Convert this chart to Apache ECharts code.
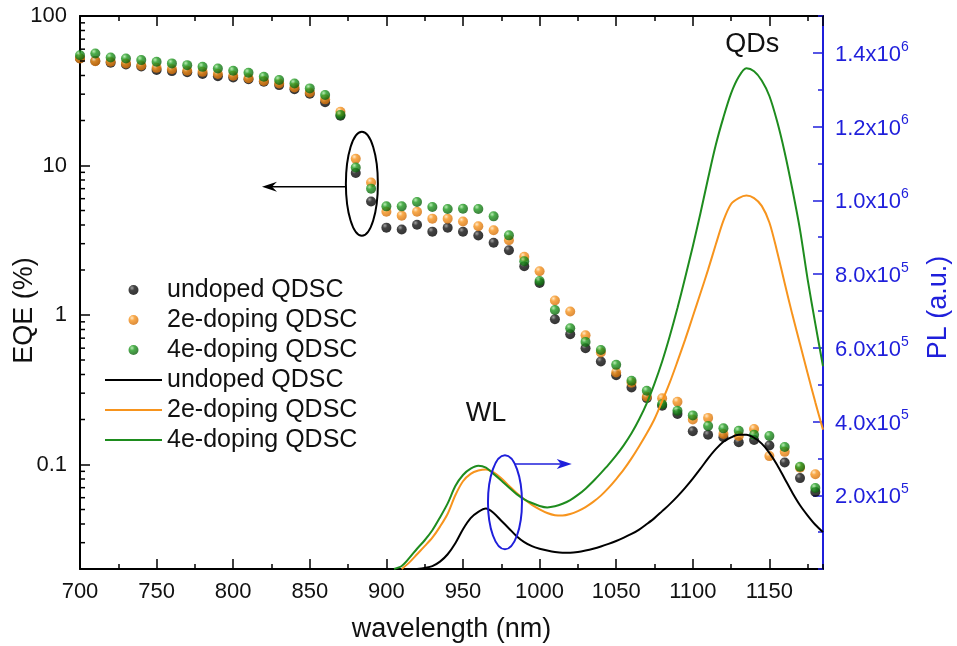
<!DOCTYPE html>
<html>
<head>
<meta charset="utf-8">
<script src="https://cdn.jsdelivr.net/npm/echarts@6/dist/echarts.min.js"></script>
<style>
  html, body { margin: 0; padding: 0; background: #fff; }
  #chart { width: 957px; height: 646px; }
</style>
</head>
<body>
<div id="chart"></div>
<script>
// EQE measurement wavelengths (nm) and EQE values (%) for the three cells
const wavelengthEQE = [700, 710, 720, 730, 740, 750, 760, 770, 780, 790,
  800, 810, 820, 830, 840, 850, 860, 870, 880, 890,
  900, 910, 920, 930, 940, 950, 960, 970, 980, 990,
  1000, 1010, 1020, 1030, 1040, 1050, 1060, 1070, 1080, 1090,
  1100, 1110, 1120, 1130, 1140, 1150, 1160, 1170, 1180];
const eqeUndoped = [52.0, 50.0, 48.7, 47.4, 46.0, 43.5, 42.8, 42.0, 40.9, 39.6,
  38.8, 37.7, 36.3, 34.5, 32.4, 30.2, 26.5, 21.5, 8.90, 5.75,
  3.84, 3.73, 4.01, 3.61, 3.83, 3.60, 3.40, 3.04, 2.71, 2.12,
  1.64, 0.936, 0.744, 0.600, 0.489, 0.396, 0.328, 0.278, 0.247, 0.218,
  0.167, 0.158, 0.152, 0.141, 0.146, 0.134, 0.103, 0.0811, 0.0655];
const eqe2e = [52.0, 49.9, 49.4, 48.2, 46.7, 45.0, 44.1, 43.0, 42.3, 40.9,
  39.8, 38.3, 36.7, 35.4, 33.3, 30.8, 27.7, 22.9, 11.1, 7.70,
  4.91, 4.62, 4.91, 4.41, 4.41, 4.22, 3.92, 3.69, 3.16, 2.45,
  1.96, 1.25, 1.054, 0.732, 0.561, 0.413, 0.352, 0.284, 0.277, 0.263,
  0.200, 0.205, 0.160, 0.155, 0.173, 0.1138, 0.1215, 0.095, 0.0861];
const eqe4e = [54.7, 56.2, 52.8, 52.0, 50.7, 49.4, 48.2, 46.9, 45.7, 44.6,
  43.0, 41.7, 39.2, 37.3, 35.4, 32.8, 29.6, 21.8, 9.70, 7.0,
  5.33, 5.33, 5.70, 5.28, 5.12, 5.14, 5.12, 4.57, 3.41, 2.29,
  1.69, 1.08, 0.815, 0.661, 0.584, 0.464, 0.363, 0.311, 0.253, 0.229,
  0.213, 0.181, 0.1745, 0.168, 0.158, 0.155, 0.131, 0.0965, 0.0697];

// PL spectra (a.u., in thousands), sampled every 5 nm
const PL_UNIT = 1000;
const wavelengthPL = [900, 905, 910, 915, 920, 925, 930, 935, 940, 945,
  950, 955, 960, 965, 970, 975, 980, 985, 990, 995,
  1000, 1005, 1010, 1015, 1020, 1025, 1030, 1035, 1040, 1045,
  1050, 1055, 1060, 1065, 1070, 1075, 1080, 1085, 1090, 1095,
  1100, 1105, 1110, 1115, 1120, 1125, 1130, 1135, 1140, 1145,
  1150, 1155, 1160, 1165, 1170, 1175, 1180, 1185];
const plUndoped = [null, null, null, null, 0, 3, 8, 20, 40, 70,
  108, 138, 155, 164, 152, 131, 110, 89, 73, 62,
  55, 50, 46, 44, 44, 46, 50, 55, 61, 68,
  76, 85, 95, 107, 122, 138, 157, 176, 197, 220,
  245, 272, 300, 325, 345, 357, 364, 364, 356, 340,
  315, 283, 245, 207, 173, 145, 120, 100];
const pl2e = [null, null, 0, 18, 40, 62, 85, 115, 150, 200,
  238, 258, 267, 270, 262, 246, 226, 206, 189, 174,
  162, 152, 146, 145, 149, 157, 168, 182, 199, 220,
  244, 270, 300, 333, 368, 407, 455, 506, 563, 622,
  685, 748, 812, 880, 945, 990, 1006, 1013, 1006, 985,
  940, 862, 775, 690, 610, 530, 452, 378];
const pl4e = [null, 0, 8, 30, 55, 78, 105, 140, 178, 225,
  255, 272, 280, 275, 258, 240, 221, 203, 189, 179,
  171, 167, 170, 177, 187, 201, 218, 238, 260, 283,
  308, 336, 368, 406, 450, 503, 563, 632, 708, 790,
  875, 965, 1060, 1150, 1225, 1290, 1335, 1358, 1350, 1325,
  1283, 1215, 1130, 1030, 920, 785, 665, 550];

// Sample labels
const sampleNames = ['undoped QDSC', '2e-doping QDSC', '4e-doping QDSC'];

// Minor tick values of the logarithmic EQE axis
const logMinorTicks = [0.03, 0.04, 0.05, 0.06, 0.07, 0.08, 0.09,
  0.2, 0.3, 0.4, 0.5, 0.6, 0.7, 0.8, 0.9,
  2, 3, 4, 5, 6, 7, 8, 9,
  20, 30, 40, 50, 60, 70, 80, 90];

const FONT = "'Liberation Sans', Arial, sans-serif";
const BLUE = '#1f1fdb';
const BLACK = '#000000';
const ORANGE = '#f7941d';
const GREEN = '#1e8c1e';

function ball(light, base, dark) {
  return {
    type: 'radial', x: 0.35, y: 0.3, r: 0.75,
    colorStops: [
      { offset: 0, color: light },
      { offset: 0.35, color: base },
      { offset: 1, color: dark }
    ]
  };
}

const pairs = (xs, ys, k) => xs.map((x, i) => [x, ys[i] == null ? null : ys[i] * (k || 1)]);

const chart = echarts.init(document.getElementById('chart'));

const axisBlack = { color: BLACK, width: 2 };
const tickBlack = { color: BLACK, width: 1.5 };

const scatterSeries = [
  { key: 'EQE|' + sampleNames[0], data: pairs(wavelengthEQE, eqeUndoped), fill: ball('#8a8a8a', '#141414', '#000000') },
  { key: 'EQE|' + sampleNames[1], data: pairs(wavelengthEQE, eqe2e), fill: ball('#ffe2b8', '#f7941d', '#d06c08') },
  { key: 'EQE|' + sampleNames[2], data: pairs(wavelengthEQE, eqe4e), fill: ball('#a8e6a0', '#1f9a1f', '#0b5a0b') }
].map(s => ({
  name: s.key,
  type: 'scatter',
  xAxisIndex: 0, yAxisIndex: 0,
  symbol: 'circle',
  symbolSize: 10,
  itemStyle: { color: s.fill },
  data: s.data
}));

const lineSeries = [
  { key: 'PL|' + sampleNames[0], data: pairs(wavelengthPL, plUndoped, PL_UNIT), color: BLACK },
  { key: 'PL|' + sampleNames[1], data: pairs(wavelengthPL, pl2e, PL_UNIT), color: ORANGE },
  { key: 'PL|' + sampleNames[2], data: pairs(wavelengthPL, pl4e, PL_UNIT), color: GREEN }
].map(s => ({
  name: s.key,
  type: 'line',
  xAxisIndex: 0, yAxisIndex: 1,
  symbol: 'none',
  smooth: 0.3,
  connectNulls: false,
  itemStyle: { color: s.color },
  lineStyle: { color: s.color, width: 2 },
  data: s.data
}));

const option = {
  animation: false,
  backgroundColor: '#ffffff',
  grid: { left: 80, right: 134, top: 16, bottom: 77, containLabel: false, outerBoundsMode: 'none' },
  legend: {
    orient: 'vertical',
    left: 99,
    top: 270,
    itemWidth: 57,
    itemHeight: 10,
    itemGap: 0,
    selectedMode: false,
    formatter: name => name.split('|')[1],
    textStyle: { fontSize: 25, lineHeight: 30, color: '#111', fontFamily: FONT },
    data: scatterSeries.map(s => ({ name: s.name }))
      .concat(lineSeries.map(s => ({ name: s.name, itemStyle: { color: 'rgba(0,0,0,0)', borderWidth: 0 } })))
  },
  xAxis: [
    {
      type: 'value', position: 'bottom', min: 700, max: 1185, interval: 50,
      axisLine: { onZero: false, lineStyle: axisBlack },
      axisTick: { inside: true, length: 10, lineStyle: tickBlack },
      axisLabel: { showMaxLabel: false, margin: 12, fontSize: 22, color: '#111', fontFamily: FONT,
        formatter: v => String(v) },
      splitLine: { show: false },
      name: 'wavelength (nm)', nameLocation: 'middle', nameGap: 47, nameMoveOverlap: false,
      nameTextStyle: { fontSize: 27, color: '#111', fontFamily: FONT }
    },
    {
      type: 'value', position: 'bottom', min: 700, max: 1185, interval: 25,
      axisLine: { show: false, onZero: false },
      axisTick: { inside: true, length: 5, lineStyle: tickBlack },
      axisLabel: { show: false }, splitLine: { show: false }
    },
    {
      type: 'value', position: 'top', min: 700, max: 1185, interval: 50,
      axisLine: { onZero: false, lineStyle: axisBlack },
      axisTick: { inside: true, length: 10, lineStyle: tickBlack },
      axisLabel: { show: false }, splitLine: { show: false }
    },
    {
      type: 'value', position: 'top', min: 700, max: 1185, interval: 25,
      axisLine: { show: false, onZero: false },
      axisTick: { inside: true, length: 5, lineStyle: tickBlack },
      axisLabel: { show: false }, splitLine: { show: false }
    }
  ],
  yAxis: [
    {
      type: 'log', logBase: 10, min: 0.02, max: 100, position: 'left',
      axisLine: { show: true, onZero: false, lineStyle: axisBlack },
      axisTick: { inside: true, length: 10, lineStyle: tickBlack },
      axisLabel: {
        margin: 13, fontSize: 22, color: '#111', fontFamily: FONT,
        formatter: v => {
          const l = Math.log10(v);
          return Math.abs(l - Math.round(l)) < 1e-6 ? String(+v.toPrecision(3)) : '';
        }
      },
      splitLine: { show: false },
      name: 'EQE (%)', nameLocation: 'middle', nameGap: 42, nameMoveOverlap: false,
      nameTextStyle: { fontSize: 27, color: '#111', fontFamily: FONT, padding: [0, 36, 0, 0] }
    },
    {
      type: 'value', position: 'right', min: 0, max: 1.5e6, interval: 2e5,
      axisLine: { show: true, lineStyle: { color: BLUE, width: 2 } },
      axisTick: { inside: true, length: 10, lineStyle: { color: BLUE, width: 1.5 } },
      axisLabel: {
        showMinLabel: false, showMaxLabel: false, margin: 12, color: BLUE, align: 'left',
        formatter: v => {
          if (!v) return '';
          const e = Math.floor(Math.log10(v) + 1e-9);
          const m = v / Math.pow(10, e);
          return '{b|' + m.toFixed(1) + 'x10}{s|' + e + '}';
        },
        rich: {
          b: { fontSize: 22, color: BLUE, fontFamily: FONT, lineHeight: 26, padding: [4, 0, 0, 0] },
          s: { fontSize: 14, color: BLUE, fontFamily: FONT, verticalAlign: 'top', lineHeight: 14 }
        }
      },
      splitLine: { show: false },
      name: 'PL (a.u.)', nameLocation: 'middle', nameGap: 102, nameMoveOverlap: false,
      nameTextStyle: { fontSize: 27, color: BLUE, fontFamily: FONT, padding: [0, 30, 0, 0] }
    },
    {
      type: 'value', position: 'right', min: 0, max: 1.5e6, interval: 1e5,
      axisLine: { show: false },
      axisTick: { inside: true, length: 5, lineStyle: { color: BLUE, width: 1.5 } },
      axisLabel: { show: false }, splitLine: { show: false }
    }
  ],
  series: scatterSeries.concat(lineSeries)
};

chart.setOption(option);

// Annotations placed in data coordinates
const toEQE = (x, y) => chart.convertToPixel({ xAxisIndex: 0, yAxisIndex: 0 }, [x, y]);
const toPL = (x, y) => chart.convertToPixel({ xAxisIndex: 0, yAxisIndex: 1 }, [x, y]);

const graphics = [];

// minor ticks of the log axis
const xLeft = chart.convertToPixel({ xAxisIndex: 0 }, 700);
logMinorTicks.forEach(v => {
  const y = chart.convertToPixel({ yAxisIndex: 0 }, v);
  graphics.push({ type: 'line', silent: true, z: 50,
    shape: { x1: xLeft, y1: y, x2: xLeft + 5, y2: y },
    style: { stroke: BLACK, lineWidth: 1.5 } });
});

// EQE ellipse with arrow pointing to the left axis
const c1 = toEQE(884, 7.55);
const a1 = toEQE(818.8, 7.2);
graphics.push({ type: 'ellipse', silent: true, z: 60,
  shape: { cx: c1[0], cy: c1[1], rx: 16, ry: 52 },
  style: { fill: 'none', stroke: BLACK, lineWidth: 2 } });
graphics.push({ type: 'line', silent: true, z: 60,
  shape: { x1: c1[0] - 16, y1: a1[1], x2: a1[0] + 8, y2: a1[1] },
  style: { stroke: BLACK, lineWidth: 1.5 } });
graphics.push({ type: 'polygon', silent: true, z: 60,
  shape: { points: [[a1[0], a1[1]], [a1[0] + 15, a1[1] - 5], [a1[0] + 10, a1[1]], [a1[0] + 15, a1[1] + 5]] },
  style: { fill: BLACK } });

// PL ellipse with arrow pointing to the right axis
const c2 = toPL(977.4, 181000);
const a2 = toPL(1021, 284500);
const dy = a2[1] - c2[1];
const startX = c2[0] + 17 * Math.sqrt(Math.max(0, 1 - (dy / 47) * (dy / 47)));
graphics.push({ type: 'ellipse', silent: true, z: 60,
  shape: { cx: c2[0], cy: c2[1], rx: 17, ry: 47 },
  style: { fill: 'none', stroke: BLUE, lineWidth: 2 } });
graphics.push({ type: 'line', silent: true, z: 60,
  shape: { x1: startX, y1: a2[1], x2: a2[0] - 8, y2: a2[1] },
  style: { stroke: BLUE, lineWidth: 1.5 } });
graphics.push({ type: 'polygon', silent: true, z: 60,
  shape: { points: [[a2[0], a2[1]], [a2[0] - 15, a2[1] - 5], [a2[0] - 11, a2[1]], [a2[0] - 15, a2[1] + 5]] },
  style: { fill: BLUE } });

// peak labels
const pQD = toPL(1138.8, 1.423e6);
const pWL = toPL(965, 423000);
[['QDs', pQD], ['WL', pWL]].forEach(([t, p]) => {
  graphics.push({ type: 'text', silent: true, z: 60,
    style: { text: t, x: p[0], y: p[1], fill: '#111', fontSize: 27, fontFamily: FONT,
      align: 'center', verticalAlign: 'middle', textAlign: 'center', textVerticalAlign: 'middle' } });
});

chart.setOption({ graphic: graphics });
</script>
</body>
</html>
